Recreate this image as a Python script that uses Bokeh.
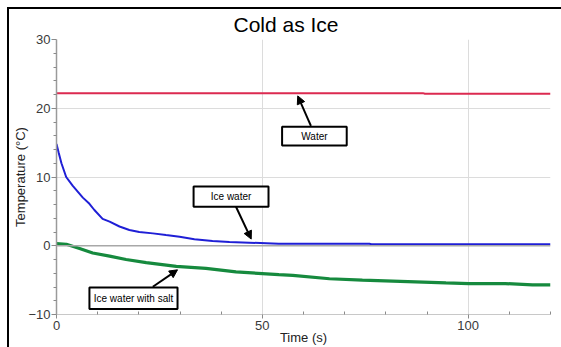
from bokeh.plotting import figure
from bokeh.models import (ColumnDataSource, FixedTicker, Range1d, Arrow, NormalHead,
                          Span, InlineStyleSheet)
from bokeh.core.properties import value
from bokeh.embed import file_html
from bokeh.resources import INLINE

FONT = "Liberation Sans"

# ---- data ----
water_t = [0, 89, 89.5, 120]
water_temp = [22.2, 22.2, 22.1, 22.1]

ice_t = [0, 0.5, 1.2, 2.35, 3.96, 6.4, 8.0, 9.2, 11.2, 12.9, 15.3, 17.7, 20.1, 23.4,
         26.6, 29.9, 33.5, 37.9, 42.0, 46.8, 54.0, 65.0, 76.0, 76.5, 90.0, 105.0, 120.0]
ice_temp = [14.8, 13.6, 12.0, 10.0, 8.7, 7.0, 6.1, 5.2, 3.9, 3.5, 2.8, 2.3, 2.0, 1.8,
            1.55, 1.3, 0.95, 0.68, 0.55, 0.45, 0.3, 0.3, 0.3, 0.22, 0.22, 0.22, 0.22]

salt_t = [0, 2.4, 5.6, 8.8, 12.9, 16.9, 21.8, 29.1, 36.3, 43.6, 54.0, 57.4, 66.3,
          74.3, 94.6, 100.2, 109.0, 115.6, 120.0]
salt_temp = [0.3, 0.22, -0.4, -1.05, -1.5, -2.0, -2.45, -3.0, -3.3, -3.8, -4.2, -4.3,
             -4.8, -5.0, -5.4, -5.5, -5.5, -5.7, -5.7]

x_major = [0, 50, 100]
x_minor = [10, 20, 30, 40, 60, 70, 80, 90, 110, 120]
y_major = [-10, 0, 10, 20, 30]
y_minor = [v for v in range(-10, 31, 2) if v % 10 != 0]

# callout boxes (annotation labels)
box_text = ["Water", "Ice water", "Ice water with salt"]
box_left = [54.8, 33.3, 8.0]
box_right = [70.5, 51.5, 29.4]
box_top = [17.3, 8.63, -6.06]
box_bottom = [14.6, 5.67, -9.2]
arrow_x0 = [61.8, 43.6, 23.4]
arrow_y0 = [17.45, 5.67, -5.96]
arrow_x1 = [58.6, 47.3, 29.4]
arrow_y1 = [21.8, 0.97, -3.5]

p = figure(width=561, height=347, output_backend="svg", toolbar_location=None,
           x_range=Range1d(0, 120), y_range=Range1d(-10, 30),
           min_border_left=56, min_border_right=11, min_border_top=39,
           min_border_bottom=33, title="Cold as Ice")
p.background_fill_color = "white"
p.border_fill_color = "white"
p.outline_line_color = None

p.title.text_font = FONT
p.title.text_font_size = "21px"
p.title.text_font_style = "normal"
p.title.text_color = "black"
p.title.align = "left"
p.title.offset = 177
p.title.standoff = 7

# axes
xa = p.xaxis[0]
ya = p.yaxis[0]
xa.ticker = FixedTicker(ticks=x_major, minor_ticks=x_minor)
ya.ticker = FixedTicker(ticks=y_major, minor_ticks=y_minor)
for ax in (xa, ya):
    ax.major_label_text_font = FONT
    ax.major_label_text_font_size = "13px"
    ax.major_label_text_color = "#3a3a3a"
    ax.axis_label_text_font = FONT
    ax.axis_label_text_font_size = "13px"
    ax.axis_label_text_font_style = "normal"
    ax.axis_label_text_color = "#222222"
    ax.major_tick_line_color = "#8a8a8a"
    ax.minor_tick_line_color = "#8a8a8a"
xa.axis_label = "Time (s)"
ya.axis_label = "Temperature (°C)"
xa.axis_line_color = "#c8c8c8"
xa.major_tick_in = 0
xa.major_tick_out = 4
xa.minor_tick_in = 3
xa.minor_tick_out = 0
xa.major_label_standoff = 2
xa.axis_label_standoff = -3
ya.axis_line_color = "#9a9a9a"
ya.axis_line_width = 1.5
ya.major_tick_in = 0
ya.major_tick_out = 5
ya.minor_tick_in = 0
ya.minor_tick_out = 3
ya.major_label_standoff = 1
ya.axis_label_standoff = -3

p.xgrid.ticker = FixedTicker(ticks=[50, 100])
p.ygrid.ticker = FixedTicker(ticks=[10, 20, 30])
p.xgrid.grid_line_color = "#dcdcdc"
p.ygrid.grid_line_color = "#dcdcdc"

p.add_layout(Span(location=0, dimension="width", line_color="#a8a8a8", line_width=1.5))

# series
p.line(water_t, water_temp, line_color="#dc2a50", line_width=2)
p.line(ice_t, ice_temp, line_color="#1f1fd6", line_width=2)
p.line(salt_t, salt_temp, line_color="#168a3e", line_width=3.2)

# callouts
for i in range(3):
    p.add_layout(Arrow(end=NormalHead(size=8, fill_color="black", line_color="black"),
                       x_start=arrow_x0[i], y_start=arrow_y0[i],
                       x_end=arrow_x1[i], y_end=arrow_y1[i],
                       line_color="black", line_width=2))
bsrc = ColumnDataSource(dict(l=box_left, r=box_right, t=box_top, b=box_bottom,
                             txt=box_text,
                             cx=[(a + b) / 2 for a, b in zip(box_left, box_right)],
                             cy=[(a + b) / 2 for a, b in zip(box_top, box_bottom)]))
p.quad(left="l", right="r", top="t", bottom="b", source=bsrc, fill_color="white",
       line_color="black", line_width=2)
p.text(x="cx", y="cy", text="txt", source=bsrc, text_font=value(FONT),
       text_font_size="10px", text_align="center", text_baseline="middle",
       text_color="black")

# outer frame of the picture: only the top and left edges are inside the window
p.stylesheets = [InlineStyleSheet(css=(
    ":host { position: relative; overflow: hidden; }\n"
    ":host::before { content: ''; position: absolute; left: 7px; top: 7px; "
    "width: 554px; height: 2px; background: black; pointer-events: none; z-index: 10; }\n"
    ":host::after { content: ''; position: absolute; left: 7px; top: 7px; "
    "width: 2px; height: 340px; background: black; pointer-events: none; z-index: 10; }"))]

open("out.html", "w").write(file_html(p, INLINE))
